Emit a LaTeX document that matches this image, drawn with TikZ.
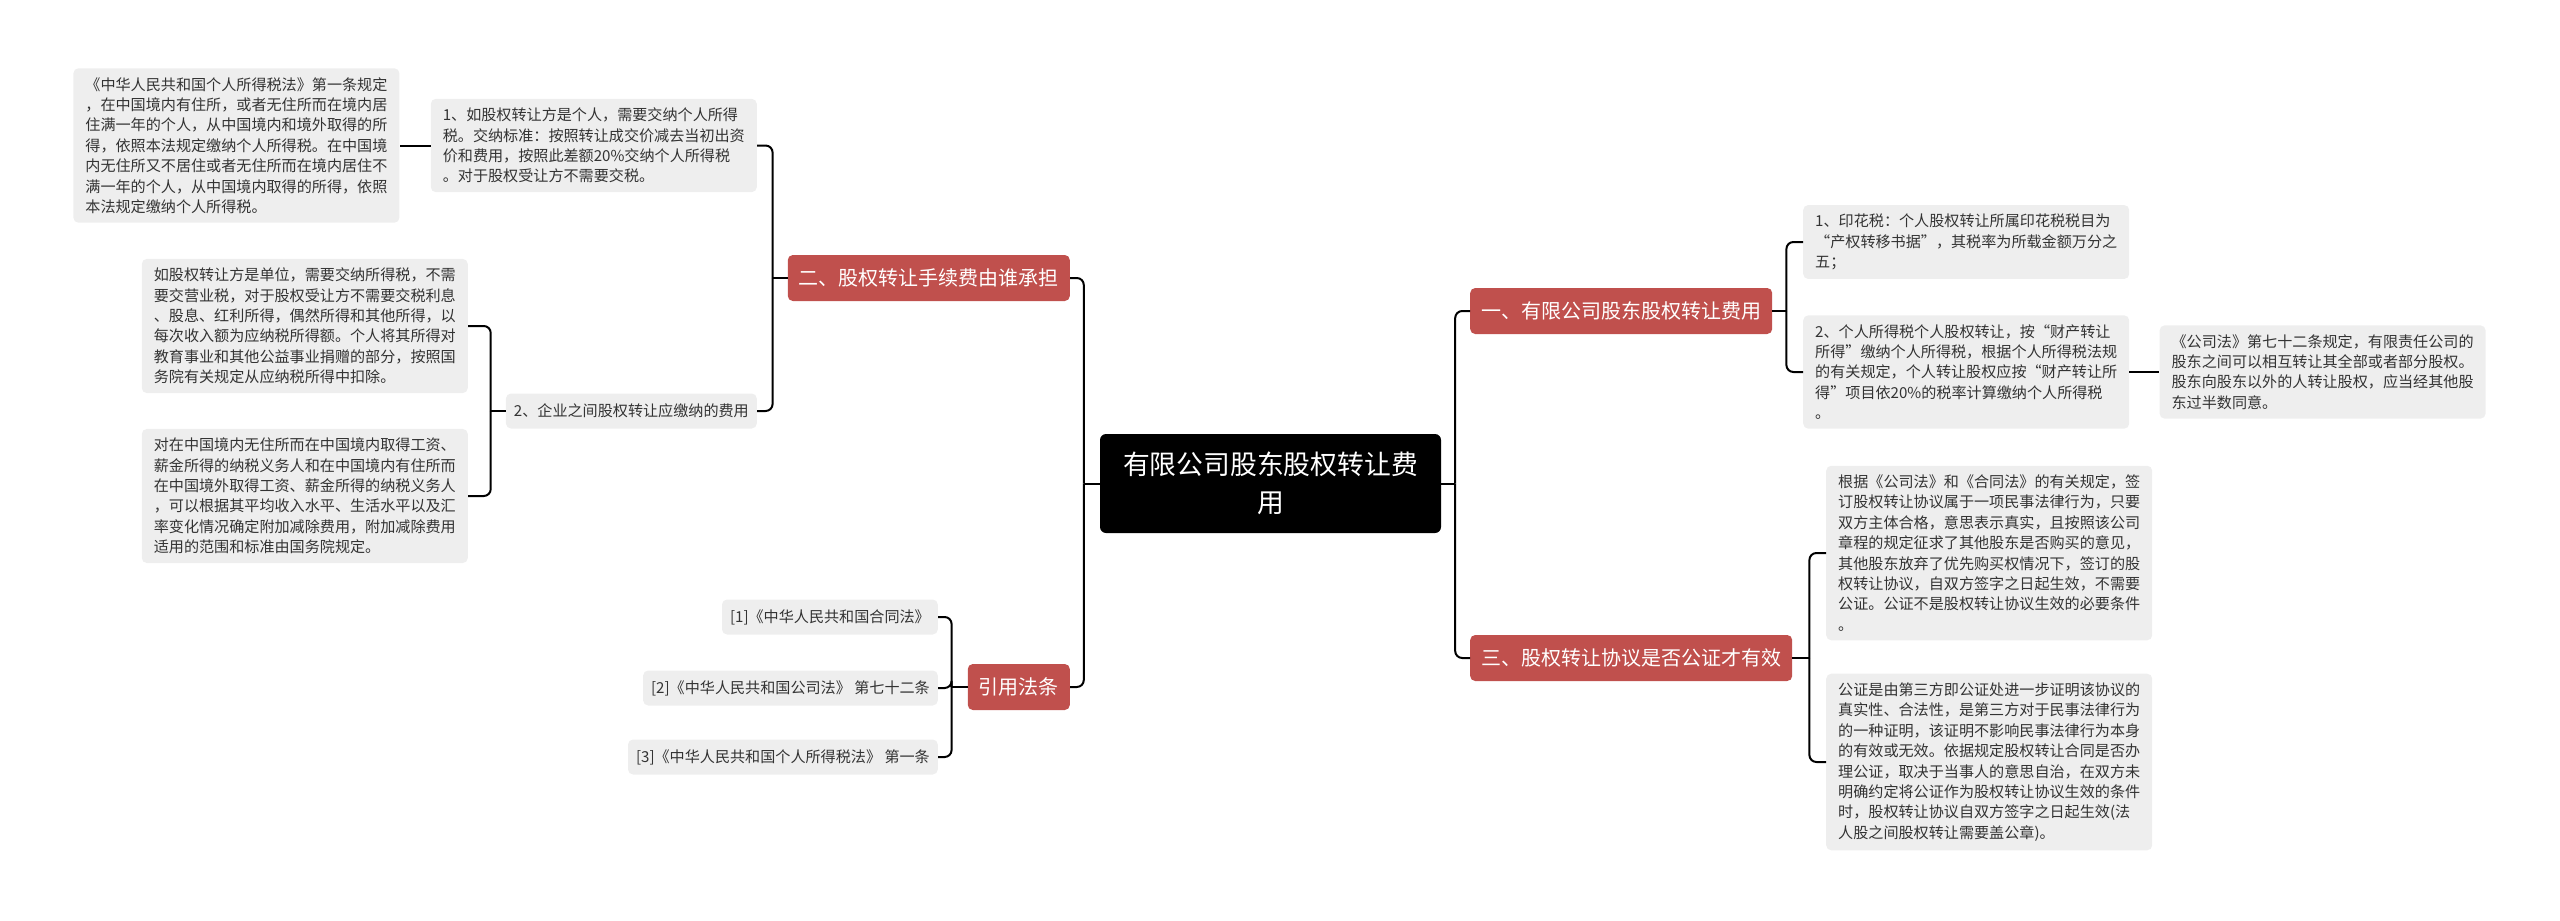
\documentclass[tikz,border=0pt]{standalone}
\usepackage{fontspec}
\usepackage{xcolor}
\usepackage{tikz}
\usetikzlibrary{positioning,calc}
\newfontfamily\cjk{Noto Sans CJK SC}
\definecolor{leafgray}{HTML}{EEEEEE}
\definecolor{leaftext}{HTML}{333333}
\definecolor{branchred}{HTML}{C0504D}

\begin{document}
\begin{tikzpicture}[x=1pt, y=-1pt,
  root/.style={fill=black, text=white, rounded corners=6pt, align=center, font=\cjk\fontsize{26.8}{38}\selectfont, minimum width=341pt, minimum height=99pt},
  branch/.style={fill=branchred, text=white, rounded corners=5pt, font=\cjk\fontsize{20}{24}\selectfont, inner xsep=11pt, minimum height=46pt},
  leaf/.style={fill=leafgray, text=leaftext, rounded corners=5pt, align=left, font=\cjk\fontsize{15.1}{20.4}\selectfont, inner xsep=12pt, inner ysep=9pt},
  cite/.style={leaf, inner xsep=8pt, minimum height=35pt},
  conn/.style={draw=black, line width=2pt, rounded corners=7pt}
]
  \useasboundingbox (0,0) rectangle (2560,921);

  \node[root] (root) at (1270.5,483.5) {有限公司股东股权转让费\\用};

  \node[branch, anchor=west] (b1) at (1470,311) {一、有限公司股东股权转让费用};
  \node[branch, anchor=east] (b2) at (1070,278) {二、股权转让手续费由谁承担};
  \node[branch, anchor=west] (b3) at (1470,658) {三、股权转让协议是否公证才有效};
  \node[branch, anchor=east] (b4) at (1070,687) {引用法条};

  \node[leaf, anchor=west] (r1) at (1803,242) {1、印花税：个人股权转让所属印花税税目为\\“产权转移书据”，其税率为所载金额万分之\\五；};
  \node[leaf, anchor=west] (r2) at (1803,372) {2、个人所得税个人股权转让，按“财产转让\\所得”缴纳个人所得税，根据个人所得税法规\\的有关规定，个人转让股权应按“财产转让所\\得”项目依20\%的税率计算缴纳个人所得税\\。};
  \node[leaf, right=30pt of r2] (r3) {《公司法》第七十二条规定，有限责任公司的\\股东之间可以相互转让其全部或者部分股权。\\股东向股东以外的人转让股权，应当经其他股\\东过半数同意。};
  \node[leaf, anchor=west] (r4) at (1826,553) {根据《公司法》和《合同法》的有关规定，签\\订股权转让协议属于一项民事法律行为，只要\\双方主体合格，意思表示真实，且按照该公司\\章程的规定征求了其他股东是否购买的意见，\\其他股东放弃了优先购买权情况下，签订的股\\权转让协议，自双方签字之日起生效，不需要\\公证。公证不是股权转让协议生效的必要条件\\。};
  \node[leaf, anchor=west] (r5) at (1826,762) {公证是由第三方即公证处进一步证明该协议的\\真实性、合法性，是第三方对于民事法律行为\\的一种证明，该证明不影响民事法律行为本身\\的有效或无效。依据规定股权转让合同是否办\\理公证，取决于当事人的意思自治，在双方未\\明确约定将公证作为股权转让协议生效的条件\\时，股权转让协议自双方签字之日起生效(法\\人股之间股权转让需要盖公章)。};

  \node[leaf, anchor=east] (l2) at (757,145.5) {1、如股权转让方是个人，需要交纳个人所得\\税。交纳标准：按照转让成交价减去当初出资\\价和费用，按照此差额20\%交纳个人所得税\\。对于股权受让方不需要交税。};
  \node[leaf, left=31pt of l2] (l1) {《中华人民共和国个人所得税法》第一条规定\\，在中国境内有住所，或者无住所而在境内居\\住满一年的个人，从中国境内和境外取得的所\\得，依照本法规定缴纳个人所得税。在中国境\\内无住所又不居住或者无住所而在境内居住不\\满一年的个人，从中国境内取得的所得，依照\\本法规定缴纳个人所得税。};
  \node[cite, anchor=east] (m2) at (757,411) {2、企业之间股权转让应缴纳的费用};
  \node[leaf, anchor=east] (l3) at (468,326) {如股权转让方是单位，需要交纳所得税，不需\\要交营业税，对于股权受让方不需要交税利息\\、股息、红利所得，偶然所得和其他所得，以\\每次收入额为应纳税所得额。个人将其所得对\\教育事业和其他公益事业捐赠的部分，按照国\\务院有关规定从应纳税所得中扣除。};
  \node[leaf, anchor=east] (l4) at (468,496) {对在中国境内无住所而在中国境内取得工资、\\薪金所得的纳税义务人和在中国境内有住所而\\在中国境外取得工资、薪金所得的纳税义务人\\，可以根据其平均收入水平、生活水平以及汇\\率变化情况确定附加减除费用，附加减除费用\\适用的范围和标准由国务院规定。};

  \node[cite, anchor=east] (c1) at (938,617) {[1]《中华人民共和国合同法》};
  \node[cite, anchor=east] (c2) at (938,688) {[2]《中华人民共和国公司法》 第七十二条};
  \node[cite, anchor=east] (c3) at (938,757) {[3]《中华人民共和国个人所得税法》 第一条};

  \draw[conn] (root.west) -- ++(-16,0) coordinate (jl);
  \draw[conn] (jl) |- (b2.east);
  \draw[conn] (jl) |- (b4.east);
  \draw[conn] (root.east) -- ++(14,0) coordinate (jr);
  \draw[conn] (jr) |- (b1.west);
  \draw[conn] (jr) |- (b3.west);

  \draw[conn] (b1.east) -- ++(14,0) coordinate (j1);
  \draw[conn] (j1) |- (r1.west);
  \draw[conn] (j1) |- (r2.west);
  \draw[conn] (r2.east) -- (r3.west);
  \draw[conn] (b3.east) -- ++(17,0) coordinate (j3);
  \draw[conn] (j3) |- (r4.west);
  \draw[conn] (j3) |- (r5.west);

  \draw[conn] (b2.west) -- ++(-15,0) coordinate (j2);
  \draw[conn] (j2) |- (l2.east);
  \draw[conn] (j2) |- (m2.east);
  \draw[conn] (l2.west) -- (l1.east);
  \draw[conn] (m2.west) -- ++(-15,0) coordinate (jm);
  \draw[conn] (jm) |- (l3.east);
  \draw[conn] (jm) |- (l4.east);
  \draw[conn] (b4.west) -- ++(-16,0) coordinate (j4);
  \draw[conn] (j4) |- (c1.east);
  \draw[conn] (j4) |- (c2.east);
  \draw[conn] (j4) |- (c3.east);
\end{tikzpicture}
\end{document}
